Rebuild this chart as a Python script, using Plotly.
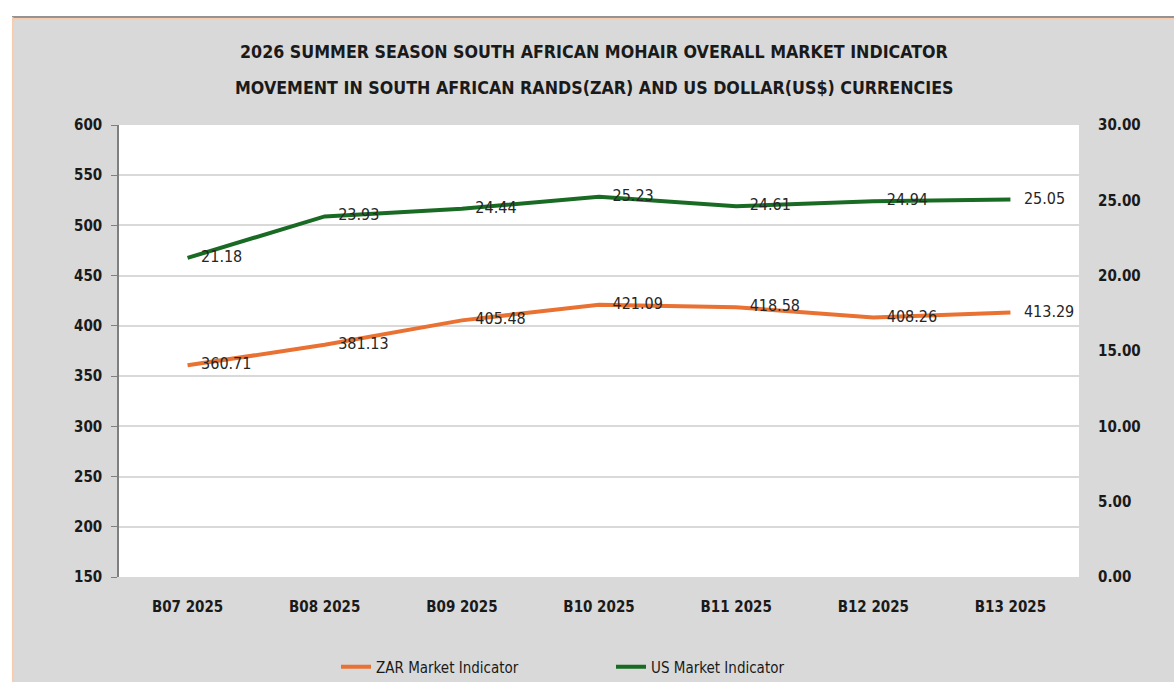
import plotly.graph_objects as go

categories = ["B07 2025", "B08 2025", "B09 2025", "B10 2025", "B11 2025", "B12 2025", "B13 2025"]
zar_values = [360.71, 381.13, 405.48, 421.09, 418.58, 408.26, 413.29]
us_values = [21.18, 23.93, 24.44, 25.23, 24.61, 24.94, 25.05]
left_ticks = [150, 200, 250, 300, 350, 400, 450, 500, 550, 600]
right_ticks = [0, 5, 10, 15, 20, 25, 30]
title_lines = [
    "2026 SUMMER SEASON SOUTH AFRICAN MOHAIR OVERALL MARKET INDICATOR",
    "MOVEMENT IN SOUTH AFRICAN RANDS(ZAR) AND US DOLLAR(US$) CURRENCIES",
]

W, H = 1174, 682
ML, MR, MT, MB = 119, 95, 125, 105
PW, PH = W - ML - MR, H - MT - MB
FONT = "DejaVu Sans Condensed, DejaVu Sans, sans-serif"


def px(x):
    return (x - ML) / PW


def py(y):
    return (H - MB - y) / PH


fig = go.Figure()
series = [
    ("ZAR Market Indicator", zar_values, "#E97132", "y"),
    ("US Market Indicator", us_values, "#196B24", "y2"),
]
for name, vals, color, yax in series:
    fig.add_trace(go.Scatter(
        x=categories, y=vals, name=name, mode="lines", yaxis=yax,
        line=dict(color=color, width=4),
    ))
for name, vals, color, yax in series:
    fig.add_trace(go.Scatter(
        x=categories, y=vals, mode="markers+text", yaxis=yax, showlegend=False,
        marker=dict(size=20, opacity=0), hoverinfo="skip",
        text=[f"{v:.2f}" for v in vals], textposition="middle right",
        textfont=dict(family=FONT, size=16, color="#262626"),
        cliponaxis=False,
    ))

annotations = [
    dict(text=t, xref="paper", yref="paper", x=px(594), y=py(yy), xanchor="center", yanchor="middle",
         showarrow=False, font=dict(family=FONT, size=17.7, color="#1a1a1a", weight="bold"))
    for t, yy in zip(title_lines, [52, 88])
]

tickfont = dict(family=FONT, size=15, color="#1a1a1a", weight="bold")

fig.update_layout(
    width=W, height=H,
    margin=dict(l=ML, r=MR, t=MT, b=MB, autoexpand=False),
    paper_bgcolor="#d9d9d9", plot_bgcolor="white",
    annotations=annotations,
    xaxis=dict(
        type="category", range=[-0.5, 6.5], showgrid=False, showline=False, ticks="",
        tickfont=tickfont, ticklabelstandoff=19,
    ),
    yaxis=dict(
        range=[150, 600], tickvals=left_ticks, showgrid=True, gridcolor="#d9d9d9", gridwidth=1.5,
        showline=True, linecolor="#7f7f7f", linewidth=1.5, ticks="outside", ticklen=6,
        tickcolor="#7f7f7f", zeroline=False, tickfont=tickfont, ticklabelstandoff=6,
    ),
    yaxis2=dict(
        range=[0, 30], tickvals=right_ticks, tickformat=".2f", overlaying="y", side="right",
        showgrid=False, showline=False, ticks="", zeroline=False,
        tickfont=tickfont, ticklabelstandoff=18,
    ),
    legend=dict(
        orientation="h", x=px(336), xanchor="left", y=py(667), yanchor="middle",
        font=dict(family=FONT, size=15, color="#1a1a1a"), entrywidth=230, bgcolor="rgba(0,0,0,0)",
    ),
    showlegend=True,
    shapes=[
        dict(type="rect", xref="paper", yref="paper", x0=px(0), x1=px(W),
             y0=py(17), y1=py(0), fillcolor="white", line_width=0, layer="below"),
        dict(type="rect", xref="paper", yref="paper", x0=px(0), x1=px(12),
             y0=py(H), y1=py(0), fillcolor="white", line_width=0, layer="below"),
        dict(type="line", xref="paper", yref="paper", x0=px(12), x1=px(W),
             y0=py(17), y1=py(17), line=dict(color="#262626", width=1)),
        dict(type="line", xref="paper", yref="paper", x0=px(12), x1=px(W),
             y0=py(18.5), y1=py(18.5), line=dict(color="#f8cbad", width=1.5)),
        dict(type="line", xref="paper", yref="paper", x0=px(12.7), x1=px(12.7),
             y0=py(H), y1=py(17), line=dict(color="#f8cbad", width=1.5)),
    ],
)

fig.write_html("out.html", config={"displayModeBar": False},
               post_script="document.body.style.margin='0';")
